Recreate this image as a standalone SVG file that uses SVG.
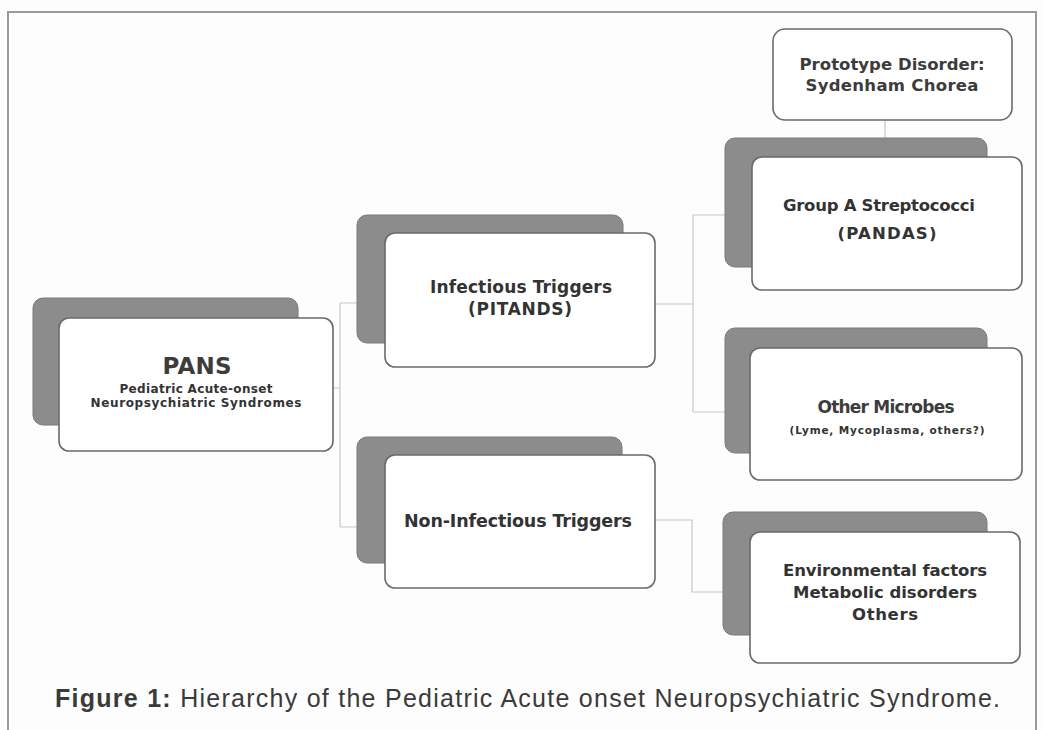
<svg xmlns="http://www.w3.org/2000/svg" width="1043" height="730" viewBox="0 0 1043 730">
<style>
.bg{fill:#fdfdfd}
.frame{fill:none;stroke:#9a9a9a;stroke-width:2}
.shadow{fill:#8c8c8c;stroke:#7a7a7a;stroke-width:1}
.box{fill:#ffffff;stroke:#6a6a6a;stroke-width:1.6}
.conn{fill:none;stroke:#c8c8c8;stroke-width:1.2}
text{font-family:"DejaVu Sans","Open Sans",sans-serif;fill:#333;text-anchor:middle;font-weight:bold}
.lt{font-weight:600;fill:#3c3c3c}
.cap{font-family:"Liberation Sans",Arial,sans-serif;font-weight:normal;text-anchor:start;fill:#3a3a3a;font-size:25px}
</style>
<rect class="bg" x="0" y="0" width="1043" height="730"/>
<path class="frame" d="M8,730 V12 H1036 V730"/>
<g id="connectors">
<path class="conn" d="M333,388 H340 M340,303 V527 M340,303 H357 M340,527 H357"/>
<path class="conn" d="M655,304 H693 M693,215 V412 M693,215 H725 M693,412 H725"/>
<path class="conn" d="M655,520 H692 V592 H723"/>
<path class="conn" d="M885,120 V138"/>
</g>
<g id="prototype">
<rect class="box" x="773" y="29" width="239" height="91" rx="12"/>
<text class="lt" x="892" y="70" font-size="16.5" textLength="185">Prototype Disorder:</text>
<text class="lt" x="892" y="91" font-size="16.5" textLength="173">Sydenham Chorea</text>
</g>
<g id="pans">
<rect class="shadow" x="33" y="298" width="265" height="127" rx="10"/>
<rect class="box" x="59" y="318" width="274" height="133" rx="10"/>
<text class="lt" x="197" y="374" font-size="23" textLength="69">PANS</text>
<text x="196" y="393" font-size="12" textLength="153">Pediatric Acute-onset</text>
<text x="196" y="407" font-size="12" textLength="211">Neuropsychiatric Syndromes</text>
</g>
<g id="infectious">
<rect class="shadow" x="357" y="215" width="266" height="128" rx="10"/>
<rect class="box" x="385" y="233" width="270" height="134" rx="10"/>
<text x="521" y="293" font-size="17" textLength="182">Infectious Triggers</text>
<text x="520" y="315" font-size="17" textLength="104">(PITANDS)</text>
</g>
<g id="noninfectious">
<rect class="shadow" x="357" y="437" width="265" height="126" rx="10"/>
<rect class="box" x="385" y="455" width="270" height="133" rx="10"/>
<text x="518" y="527" font-size="17.5" textLength="228">Non-Infectious Triggers</text>
</g>
<g id="groupa">
<rect class="shadow" x="725" y="138" width="262" height="129" rx="10"/>
<rect class="box" x="752" y="157" width="270" height="133" rx="10"/>
<text x="879" y="211" font-size="16.5" textLength="192">Group A Streptococci</text>
<text x="887" y="239" font-size="16.5" textLength="99">(PANDAS)</text>
</g>
<g id="microbes">
<rect class="shadow" x="725" y="328" width="262" height="125" rx="10"/>
<rect class="box" x="750" y="348" width="272" height="132" rx="10"/>
<text class="lt" x="886" y="413" font-size="17" textLength="137">Other Microbes</text>
<text x="887" y="434" font-size="10.5" textLength="195">(Lyme, Mycoplasma, others?)</text>
</g>
<g id="other">
<rect class="shadow" x="723" y="512" width="264" height="123" rx="10"/>
<rect class="box" x="750" y="532" width="270" height="131" rx="10"/>
<text x="885" y="576" font-size="16.5" textLength="204">Environmental factors</text>
<text x="885" y="598" font-size="16.5" textLength="184">Metabolic disorders</text>
<text x="885" y="620" font-size="16.5" textLength="66">Others</text>
</g>
<text class="cap" x="55" y="707" textLength="945"><tspan font-weight="bold">Figure 1:</tspan> Hierarchy of the Pediatric Acute onset Neuropsychiatric Syndrome.</text>
</svg>
